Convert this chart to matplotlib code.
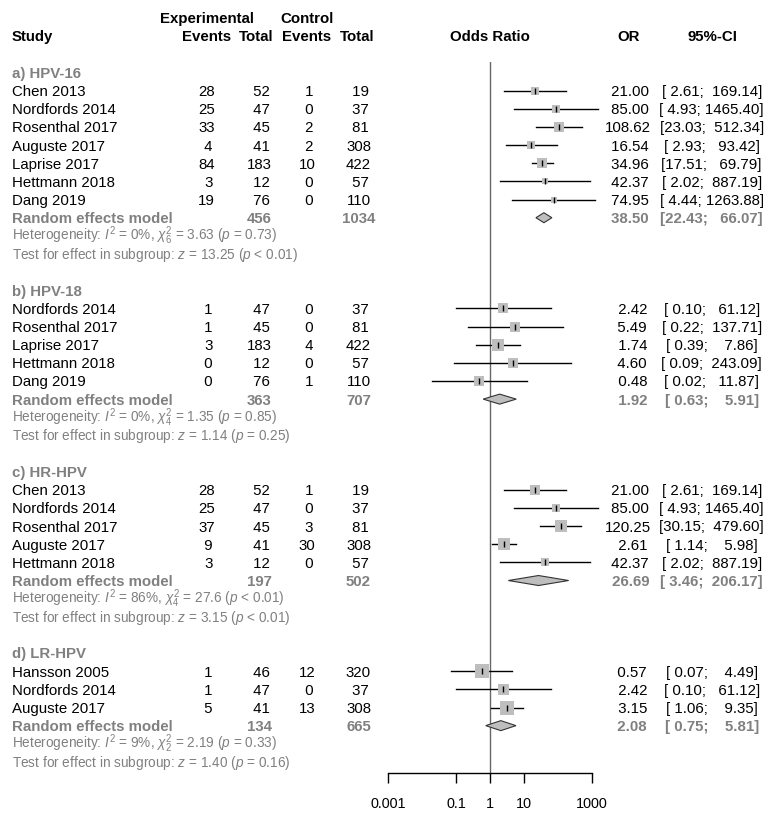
import matplotlib
matplotlib.use('Agg')
import matplotlib.pyplot as plt
from matplotlib.patches import Polygon
from matplotlib.ticker import NullLocator

plt.rcParams['font.family'] = ['Liberation Sans', 'DejaVu Sans']
plt.rcParams['mathtext.fontset'] = 'custom'
plt.rcParams['mathtext.rm'] = 'Liberation Sans'
plt.rcParams['mathtext.it'] = 'Liberation Sans:italic'
plt.rcParams['mathtext.bf'] = 'Liberation Sans:bold'

# a) HPV-16
hpv16_study = ["Chen 2013", "Nordfords 2014", "Rosenthal 2017", "Auguste 2017",
               "Laprise 2017", "Hettmann 2018", "Dang 2019"]
hpv16_ev_e = [28, 25, 33, 4, 84, 3, 19]
hpv16_n_e = [52, 47, 45, 41, 183, 12, 76]
hpv16_ev_c = [1, 0, 2, 2, 10, 0, 0]
hpv16_n_c = [19, 37, 81, 308, 422, 57, 110]
hpv16_or = [21.00, 85.00, 108.62, 16.54, 34.96, 42.37, 74.95]
hpv16_lo = [2.61, 4.93, 23.03, 2.93, 17.51, 2.02, 4.44]
hpv16_hi = [169.14, 1465.40, 512.34, 93.42, 69.79, 887.19, 1263.88]
hpv16_w = [16, 12, 17, 14, 21, 10, 8]
hpv16_re = [38.50, 22.43, 66.07]
hpv16_tot = [456, 1034]
hpv16_het = r"Heterogeneity: $I^2$ = 0%, $\chi^2_6$ = 3.63 ($p$ = 0.73)"
hpv16_test = r"Test for effect in subgroup: $z$ = 13.25 ($p$ < 0.01)"

# b) HPV-18
hpv18_study = ["Nordfords 2014", "Rosenthal 2017", "Laprise 2017", "Hettmann 2018", "Dang 2019"]
hpv18_ev_e = [1, 1, 3, 0, 0]
hpv18_n_e = [47, 45, 183, 12, 76]
hpv18_ev_c = [0, 0, 4, 0, 1]
hpv18_n_c = [37, 81, 422, 57, 110]
hpv18_or = [2.42, 5.49, 1.74, 4.60, 0.48]
hpv18_lo = [0.10, 0.22, 0.39, 0.09, 0.02]
hpv18_hi = [61.12, 137.71, 7.86, 243.09, 11.87]
hpv18_w = [18, 19, 34, 17, 21]
hpv18_re = [1.92, 0.63, 5.91]
hpv18_tot = [363, 707]
hpv18_het = r"Heterogeneity: $I^2$ = 0%, $\chi^2_4$ = 1.35 ($p$ = 0.85)"
hpv18_test = r"Test for effect in subgroup: $z$ = 1.14 ($p$ = 0.25)"

# c) HR-HPV
hr_study = ["Chen 2013", "Nordfords 2014", "Rosenthal 2017", "Auguste 2017", "Hettmann 2018"]
hr_ev_e = [28, 25, 37, 9, 3]
hr_n_e = [52, 47, 45, 41, 12]
hr_ev_c = [1, 0, 3, 30, 0]
hr_n_c = [19, 37, 81, 308, 57]
hr_or = [21.00, 85.00, 120.25, 2.61, 42.37]
hr_lo = [2.61, 4.93, 30.15, 1.14, 2.02]
hr_hi = [169.14, 1465.40, 479.60, 5.98, 887.19]
hr_w = [21, 14, 28, 31, 14]
hr_re = [26.69, 3.46, 206.17]
hr_tot = [197, 502]
hr_het = r"Heterogeneity: $I^2$ = 86%, $\chi^2_4$ = 27.6 ($p$ < 0.01)"
hr_test = r"Test for effect in subgroup: $z$ = 3.15 ($p$ < 0.01)"

# d) LR-HPV
lr_study = ["Hansson 2005", "Nordfords 2014", "Auguste 2017"]
lr_ev_e = [1, 1, 5]
lr_n_e = [46, 47, 41]
lr_ev_c = [12, 0, 13]
lr_n_c = [320, 37, 308]
lr_or = [0.57, 2.42, 3.15]
lr_lo = [0.07, 0.10, 1.06]
lr_hi = [4.49, 61.12, 9.35]
lr_w = [40, 25, 45]
lr_re = [2.08, 0.75, 5.81]
lr_tot = [134, 665]
lr_het = r"Heterogeneity: $I^2$ = 9%, $\chi^2_2$ = 2.19 ($p$ = 0.33)"
lr_test = r"Test for effect in subgroup: $z$ = 1.40 ($p$ = 0.16)"

groups = [
    ("a) HPV-16", hpv16_study, hpv16_ev_e, hpv16_n_e, hpv16_ev_c, hpv16_n_c,
     hpv16_or, hpv16_lo, hpv16_hi, hpv16_w, hpv16_re, hpv16_tot, hpv16_het, hpv16_test),
    ("b) HPV-18", hpv18_study, hpv18_ev_e, hpv18_n_e, hpv18_ev_c, hpv18_n_c,
     hpv18_or, hpv18_lo, hpv18_hi, hpv18_w, hpv18_re, hpv18_tot, hpv18_het, hpv18_test),
    ("c) HR-HPV", hr_study, hr_ev_e, hr_n_e, hr_ev_c, hr_n_c,
     hr_or, hr_lo, hr_hi, hr_w, hr_re, hr_tot, hr_het, hr_test),
    ("d) LR-HPV", lr_study, lr_ev_e, lr_n_e, lr_ev_c, lr_n_c,
     lr_or, lr_lo, lr_hi, lr_w, lr_re, lr_tot, lr_het, lr_test),
]

W, H = 776, 819
FS = 10.8
FS_SMALL = 9.8
GREY = '#808080'

fig = plt.figure(figsize=(W / 100, H / 100), dpi=100)
tax = fig.add_axes([0, 0, 1, 1])
tax.set_xlim(0, W)
tax.set_ylim(H, 0)
tax.axis('off')

top, bot = 62, 773
fax = fig.add_axes([388 / W, (H - bot) / H, 204 / W, (bot - top) / H])
fax.patch.set_visible(False)
fax.set_xscale('log')
fax.set_xlim(0.001, 1000)
fax.set_ylim(bot, top)
for s in ['left', 'right', 'top']:
    fax.spines[s].set_visible(False)
fax.spines['bottom'].set_linewidth(1)
fax.set_xticks([0.001, 0.1, 1, 10, 1000])
fax.set_xticklabels(['0.001', '0.1', '1', '10', '1000'], fontsize=10.4)
fax.xaxis.set_minor_locator(NullLocator())
fax.set_yticks([])
fax.tick_params(axis='x', direction='out', length=7, width=1, pad=10)
fax.axvline(1, color='#666666', lw=1)

x_ev_e, x_n_e, x_ev_c, x_n_c = 206.7, 259.3, 307.0, 358.5
x_or, x_ci = 628.3, 711.7


def row_y(i):
    return 72.6 + i * 18.14


def put(x, y, s, ha='left', size=FS, weight='normal', color='black', off=5.4):
    tax.text(x, y + off, s, ha=ha, va='baseline', fontsize=size,
             fontweight=weight, color=color)


# header
put(12, 35.8, "Study", weight='bold')
put(206.7, 17.5, "Experimental", ha='center', weight='bold')
put(307, 17.5, "Control", ha='center', weight='bold')
put(206.3, 35.8, "Events", ha='center', weight='bold')
put(256.5, 35.8, "Total", ha='center', weight='bold')
put(306.8, 35.8, "Events", ha='center', weight='bold')
put(357.0, 35.8, "Total", ha='center', weight='bold')
put(490, 35.8, "Odds Ratio", ha='center', weight='bold')
put(x_or, 35.8, "OR", ha='center', weight='bold')
put(712, 35.8, "95%-CI", ha='center', weight='bold')

i = 0
for (name, study, ev_e, n_e, ev_c, n_c, orv, lo, hi, w, re, tot, het, test) in groups:
    put(12, row_y(i), name, weight='bold', color=GREY)
    i += 1
    for k in range(len(study)):
        y = row_y(i)
        put(12, y, study[k])
        put(x_ev_e, y, f"{ev_e[k]:2d}", ha='center')
        put(x_n_e, y, f"{n_e[k]:3d}", ha='center')
        put(x_ev_c, y, f"{ev_c[k]:2d}", ha='center')
        put(x_n_c, y, f"{n_c[k]:3d}", ha='center')
        put(x_or, y, f"{orv[k]:6.2f}", ha='center')
        put(x_ci, y, f"[{lo[k]:5.2f}; {hi[k]:7.2f}]", ha='center')
        fax.plot([lo[k], hi[k]], [y, y], color='black', lw=1, clip_on=False, zorder=2)
        side = 2.2 * w[k] ** 0.5 * 0.72
        fax.scatter([orv[k]], [y], marker='s', s=side ** 2, color='#bebebe',
                    linewidths=0, zorder=3, clip_on=False)
        fax.plot([orv[k]], [y], marker='|', ms=4, mew=1, color='black', zorder=4)
        i += 1
    y = row_y(i)
    put(12, y, "Random effects model", weight='bold', color=GREY)
    put(x_n_e, y, f"{tot[0]}", ha='center', weight='bold', color=GREY)
    put(x_n_c, y, f"{tot[1]}", ha='center', weight='bold', color=GREY)
    put(x_or, y, f"{re[0]:6.2f}", ha='center', weight='bold', color=GREY)
    put(x_ci, y, f"[{re[1]:5.2f}; {re[2]:7.2f}]", ha='center', weight='bold', color=GREY)
    dia = Polygon([(re[1], y), (re[0], y - 5), (re[2], y), (re[0], y + 5)],
                  closed=True, facecolor='#bebebe', edgecolor='#333333', lw=0.8, zorder=3)
    fax.add_patch(dia)
    i += 1
    put(12, row_y(i), het, size=FS_SMALL, color=GREY, off=4.6)
    i += 1
    put(12, row_y(i), test, size=FS_SMALL, color=GREY, off=5.0)
    i += 2

fig.savefig('out.png', dpi=100)
